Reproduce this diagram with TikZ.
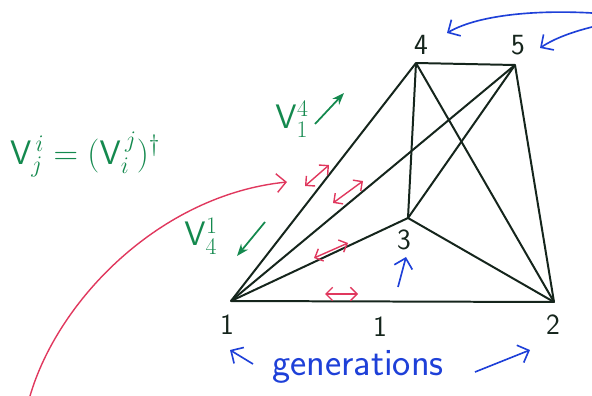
\documentclass[tikz,border=0pt]{standalone}
\usepackage{fix-cm}
\usepackage{amsmath,amssymb}
\usepackage{tikz}
\usetikzlibrary{arrows.meta,positioning,calc}
\definecolor{MarkGreen}{HTML}{14894E}
\definecolor{MarkRed}{HTML}{E0385E}
\definecolor{MarkBlue}{HTML}{1E40D8}
\definecolor{MarkInk}{HTML}{15251C}
\tikzset{
  vert/.style={inner sep=0pt, minimum size=0pt},
  edge/.style={draw=MarkInk, line width=1.7pt, line cap=round, line join=round},
  num/.style={font=\sffamily\fontsize{25}{27}\selectfont, text=MarkInk, inner sep=1pt},
  gtxt/.style={font=\fontsize{29}{31}\selectfont, text=MarkGreen, inner sep=1pt},
  btxt/.style={font=\sffamily\fontsize{33}{36}\selectfont, text=MarkBlue, inner sep=1pt},
  swaparr/.style={MarkRed, line width=1.2pt, {Straight Barb[length=2mm]}-{Straight Barb[length=2mm]}},
  redarr/.style={MarkRed, line width=1.2pt, -{Straight Barb[length=2.8mm]}},
  greenarr/.style={MarkGreen, line width=1.5pt, -{Stealth[length=3.6mm]}},
  bluearr/.style={MarkBlue, line width=1.4pt, -{Straight Barb[length=2.8mm]}}
}
\begin{document}
\begin{tikzpicture}[x=0.03cm, y=-0.03cm]
\useasboundingbox (0,0) rectangle (592,396);

% the five points
\node[vert] (v1) at (231,301) {};
\node[vert] (v2) at (554,302) {};
\node[vert] (v3) at (408,218) {};
\node[vert] (v4) at (416,63) {};
\node[vert] (v5) at (515,65) {};
\foreach \a/\b in {1/2,1/3,1/4,1/5,2/3,2/4,2/5,3/4,3/5,4/5}
  \draw[edge] (v\a) -- (v\b);

\node[num] (l1) at (227,325) {1};
\node[num] (l2) at (553,325) {2};
\node[num] (l3) at (404,240) {3};
\node[num] (l4) at (421,45) {4};
\node[num] (l5) at (518,45) {5};
\node[num] (e12) at (380,327) {1};

% swaps along the edges
\coordinate (s1a) at (305,186); \coordinate (s1b) at (329,165);
\coordinate (s2a) at (333,203); \coordinate (s2b) at (363,181);
\coordinate (s3a) at (314,258); \coordinate (s3b) at (348,243);
\coordinate (s4a) at (325,294); \coordinate (s4b) at (358,294);
\draw[swaparr] (s1a) -- (s1b);
\draw[swaparr] (s2a) -- (s2b);
\draw[swaparr] (s3a) -- (s3b);
\draw[swaparr] (s4a) -- (s4b);

% hermiticity
\node[gtxt] (herm) at (85,155) {$\mathsf{V}^{\,i}_{j}=(\mathsf{V}^{\,j}_{i})^{\dagger}$};
\node[gtxt] (v14) at (292,119) {$\mathsf{V}^{4}_{1}$};
\node[gtxt] (v41) at (201,236) {$\mathsf{V}^{1}_{4}$};
\coordinate (g1a) at (315,124); \coordinate (g1b) at (344,93);
\coordinate (g2a) at (265,222); \coordinate (g2b) at (237,256);
\draw[greenarr] (g1a) -- (g1b);
\draw[greenarr] (g2a) -- (g2b);

\coordinate (rs) at (30,396); \coordinate (re) at (287,182);
\draw[redarr] (rs) .. controls (58,300) and (160,195) .. (re);

% generations
\node[btxt] (gen) at (358,367) {generations};
\coordinate (ga) at (253,364); \coordinate (gb) at (230,350);
\coordinate (gc) at (475,372); \coordinate (gd) at (530,350);
\draw[bluearr] (ga) -- (gb);
\draw[bluearr] (gc) -- (gd);
\coordinate (b3a) at (398,287); \coordinate (b3b) at (406,257);
\draw[bluearr] (b3a) -- (b3b);
\coordinate (t4a) at (592,13); \coordinate (t4b) at (447,33);
\coordinate (t5a) at (592,27); \coordinate (t5b) at (540,48);
\draw[bluearr] (t4a) .. controls (540,10) and (480,14) .. (t4b);
\draw[bluearr] (t5a) .. controls (568,33) and (552,40) .. (t5b);
\end{tikzpicture}
\end{document}
